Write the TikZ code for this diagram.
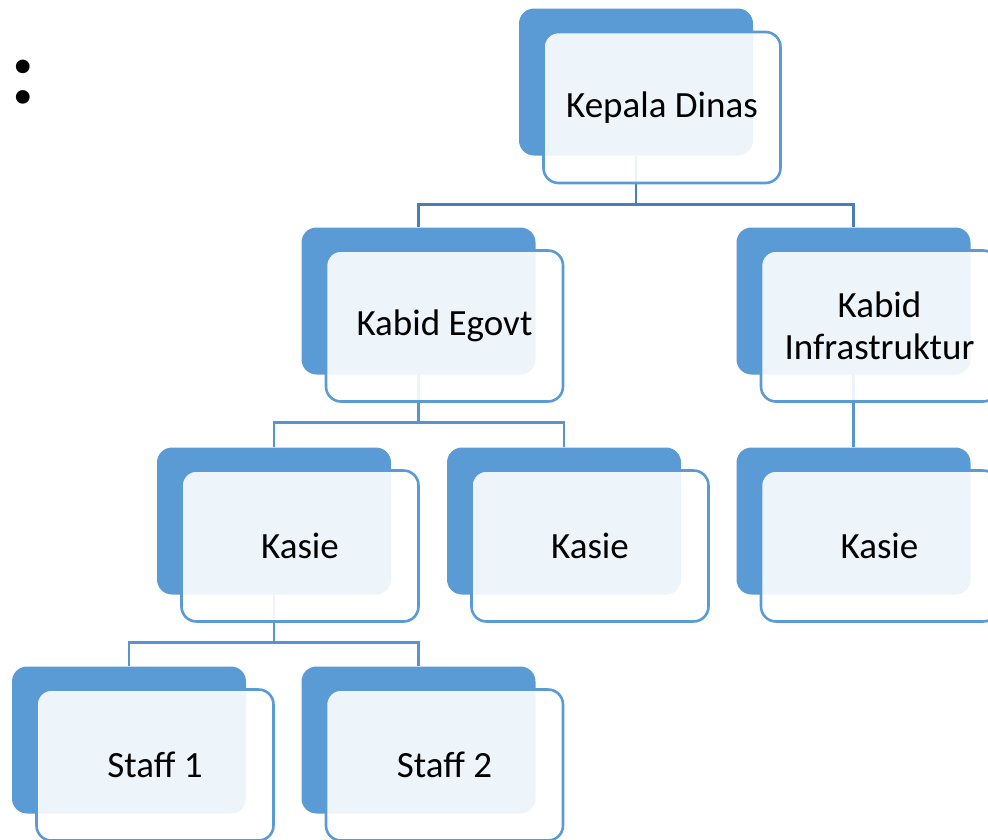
\documentclass[tikz,border=0pt]{standalone}
\usepackage{fontspec}
\setmainfont{Carlito}
\definecolor{boxblue}{RGB}{91,155,213}
\definecolor{linetop}{RGB}{74,126,187}
\definecolor{linelow}{RGB}{88,148,205}
\begin{document}
\begin{tikzpicture}[x=1pt,y=-1pt,
  back/.style={fill=boxblue,rounded corners=15pt,minimum width=234pt,minimum height=147pt,inner sep=0pt},
  front/.style={draw=boxblue,line width=2.6pt,fill=white,fill opacity=0.9,text opacity=1,rounded corners=15pt,
    minimum width=237pt,minimum height=151pt,inner sep=0pt,align=center,font=\fontsize{37}{42}\selectfont},
  topline/.style={draw=linetop,line width=2.8pt},
  lowline/.style={draw=linelow,line width=2.8pt}]

\useasboundingbox (0,0) rectangle (988,839);
\clip (0,0) rectangle (988,839);

% colon
\node (colon) at (23,82) {\fontsize{92}{92}\selectfont\bfseries :};

% back boxes
\node[back] (kd) at (636,82) {};
\node[back] (egov) at (418.5,301) {};
\node[back] (infra) at (853.5,301) {};
\node[back] (kasiea) at (274,521) {};
\node[back] (kasieb) at (564,521) {};
\node[back] (kasiec) at (853.5,521) {};
\node[back] (staffa) at (129,740) {};
\node[back] (staffb) at (418.5,740) {};

% lines
\draw[topline] (kd.south) -- ++(0,48.5) -| (egov.north);
\draw[topline] (kd.south) -- ++(0,48.5) -| (infra.north);

\draw[lowline] (egov.south) -- ++(0,47.5) -| (kasiea.north);
\draw[lowline] (egov.south) -- ++(0,47.5) -| (kasieb.north);
\draw[lowline] (infra.south) -- (kasiec.north);

\draw[lowline] (kasiea.south) -- ++(0,48) -| (staffa.north);
\draw[lowline] (kasiea.south) -- ++(0,48) -| (staffb.north);

% front boxes
\node[front] (kdf) at (662,107.5) {Kepala Dinas};
\node[front] (egovf) at (444.5,326) {Kabid Egovt};
\node[front] (infraf) at (879.5,326) {Kabid\\Infrastruktur};
\node[front] (kasieaf) at (300,546) {Kasie};
\node[front] (kasiebf) at (590,546) {Kasie};
\node[front] (kasiecf) at (879.5,546) {Kasie};
\node[front] (staffaf) at (155,765) {Staff 1};
\node[front] (staffbf) at (444.5,765) {Staff 2};
\end{tikzpicture}
\end{document}
